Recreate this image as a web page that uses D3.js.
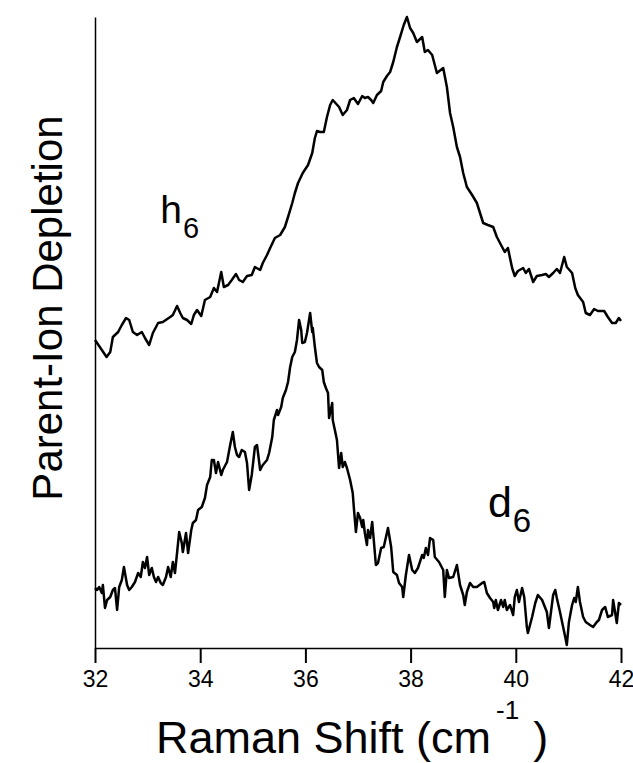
<!DOCTYPE html>
<html>
<head>
<meta charset="utf-8">
<script src="https://cdn.jsdelivr.net/npm/d3@7/dist/d3.min.js"></script>
<style>
  html, body { margin: 0; padding: 0; background: #fff; }
  svg { display: block; }
  text { font-family: "Liberation Sans", Arial, Helvetica, sans-serif; fill: #000; }
</style>
</head>
<body>
<svg id="chart" width="633" height="763"></svg>
<script>
// Raman shift (cm^-1) and parent-ion depletion (arbitrary units, offset traces)
const h6Shift = [32.00,32.04,32.13,32.22,32.29,32.34,32.44,32.51,32.59,32.65,32.72,32.80,32.89,32.95,33.03,33.10,33.20,33.29,33.43,33.48,33.56,33.62,33.67,33.75,33.83,33.88,33.94,34.02,34.09,34.19,34.26,34.32,34.40,34.45,34.53,34.60,34.68,34.74,34.81,34.89,34.98,35.04,35.14,35.19,35.27,35.33,35.42,35.52,35.61,35.67,35.75,35.80,35.86,35.95,36.05,36.13,36.18,36.22,36.28,36.35,36.41,36.47,36.52,36.64,36.71,36.79,36.85,36.92,37.00,37.08,37.13,37.19,37.25,37.29,37.36,37.44,37.48,37.55,37.61,37.67,37.74,37.80,37.87,37.93,37.99,38.05,38.12,38.22,38.27,38.33,38.41,38.46,38.50,38.62,38.69,38.75,38.81,38.88,38.94,39.00,39.07,39.17,39.26,39.32,39.38,39.47,39.57,39.64,39.74,39.79,39.85,39.93,39.98,40.04,40.14,40.19,40.25,40.33,40.40,40.50,40.57,40.63,40.71,40.78,40.84,40.92,40.97,41.07,41.13,41.18,41.28,41.33,41.41,41.49,41.56,41.68,41.75,41.83,41.90,41.96,42.00];
const h6Signal = [3.08,3.05,2.98,2.91,2.96,3.11,3.16,3.23,3.30,3.28,3.16,3.13,3.16,3.10,3.03,3.15,3.25,3.26,3.31,3.33,3.42,3.35,3.30,3.28,3.24,3.33,3.38,3.32,3.48,3.51,3.60,3.56,3.76,3.61,3.63,3.68,3.74,3.68,3.66,3.72,3.73,3.81,3.78,3.85,3.93,4.00,4.10,4.13,4.21,4.31,4.45,4.55,4.65,4.75,4.83,4.95,5.10,5.17,5.16,5.16,5.31,5.43,5.48,5.41,5.33,5.38,5.48,5.50,5.44,5.52,5.50,5.51,5.48,5.45,5.53,5.57,5.66,5.72,5.76,5.86,6.01,6.11,6.23,6.31,6.20,6.15,6.06,6.11,5.96,5.98,5.93,5.83,5.75,5.80,5.61,5.35,5.21,5.01,4.91,4.75,4.61,4.53,4.45,4.35,4.25,4.23,4.21,4.11,4.01,3.96,4.00,3.80,3.72,3.77,3.80,3.75,3.79,3.66,3.72,3.73,3.74,3.71,3.75,3.79,3.75,3.91,3.81,3.75,3.60,3.53,3.46,3.35,3.33,3.39,3.37,3.37,3.31,3.25,3.25,3.30,3.27];

const d6Shift = [32.00,32.04,32.08,32.13,32.15,32.19,32.23,32.29,32.34,32.38,32.42,32.46,32.51,32.55,32.61,32.65,32.70,32.76,32.82,32.87,32.91,32.95,32.99,33.03,33.08,33.12,33.16,33.20,33.25,33.29,33.35,33.39,33.44,33.48,33.52,33.56,33.60,33.65,33.67,33.73,33.77,33.83,33.86,33.92,33.96,34.03,34.09,34.13,34.19,34.22,34.26,34.30,34.34,34.40,34.43,34.51,34.57,34.62,34.66,34.70,34.74,34.79,34.85,34.89,34.93,34.98,35.04,35.08,35.14,35.19,35.27,35.31,35.37,35.40,35.46,35.48,35.54,35.57,35.63,35.67,35.71,35.75,35.80,35.84,35.88,35.92,35.94,35.99,36.03,36.09,36.13,36.14,36.18,36.22,36.26,36.32,36.35,36.39,36.43,36.45,36.51,36.52,36.56,36.60,36.64,36.68,36.71,36.75,36.79,36.85,36.90,36.92,36.96,37.00,37.04,37.08,37.10,37.13,37.17,37.19,37.23,37.27,37.30,37.34,37.38,37.44,37.49,37.57,37.63,37.67,37.74,37.78,37.84,37.86,37.91,37.97,38.03,38.08,38.14,38.22,38.25,38.29,38.33,38.37,38.43,38.46,38.54,38.62,38.65,38.69,38.73,38.81,38.88,38.94,39.00,39.03,39.07,39.13,39.19,39.26,39.36,39.40,39.45,39.51,39.57,39.59,39.62,39.66,39.72,39.76,39.79,39.83,39.89,39.95,39.98,40.02,40.06,40.12,40.16,40.21,40.23,40.31,40.37,40.42,40.50,40.56,40.59,40.63,40.71,40.75,40.78,40.84,40.90,40.94,40.97,41.01,41.07,41.11,41.14,41.18,41.22,41.28,41.33,41.41,41.47,41.54,41.58,41.64,41.70,41.75,41.83,41.85,41.89,41.92,41.96,42.00];
const d6Signal = [0.60,0.58,0.61,0.55,0.63,0.40,0.48,0.51,0.58,0.60,0.38,0.61,0.68,0.81,0.63,0.58,0.61,0.66,0.75,0.71,0.86,0.80,0.91,0.73,0.80,0.71,0.66,0.71,0.65,0.63,0.71,0.81,0.71,0.86,0.75,0.95,1.16,1.05,0.96,1.15,0.95,1.18,1.25,1.28,1.38,1.41,1.50,1.63,1.71,1.88,1.88,1.75,1.86,1.73,1.78,1.86,2.03,2.16,2.01,1.93,1.91,1.98,1.96,1.85,1.58,1.73,2.01,2.03,1.78,1.83,1.88,1.95,2.11,2.28,2.38,2.33,2.41,2.50,2.58,2.66,2.81,2.91,2.96,3.08,3.28,3.18,3.05,3.06,3.15,3.35,3.16,3.20,3.01,2.85,2.81,2.78,2.66,2.60,2.55,2.30,2.45,2.28,2.18,2.08,1.80,1.95,1.81,1.86,1.80,1.68,1.55,1.41,1.16,1.35,1.30,1.21,1.28,1.15,1.03,1.18,1.10,1.26,1.08,0.83,0.85,1.00,1.01,1.20,1.01,0.76,0.73,0.65,0.61,0.51,0.73,0.93,0.78,0.75,0.80,0.93,0.90,1.00,0.93,1.10,1.08,0.91,0.86,0.78,0.51,0.78,0.70,0.71,0.83,0.63,0.53,0.43,0.56,0.65,0.61,0.61,0.65,0.66,0.55,0.50,0.46,0.40,0.48,0.38,0.48,0.41,0.48,0.38,0.43,0.33,0.51,0.58,0.46,0.60,0.51,0.21,0.15,0.31,0.45,0.53,0.48,0.40,0.36,0.20,0.53,0.58,0.50,0.36,0.21,0.11,0.03,0.26,0.43,0.50,0.46,0.61,0.46,0.31,0.26,0.23,0.21,0.26,0.28,0.38,0.41,0.31,0.33,0.48,0.35,0.25,0.45,0.43];

const xTicks = [32, 34, 36, 38, 40, 42];
const xDomain = [32, 42];
const yDomain = [0, 6.31];

// trace labels: main letter with a subscript, anchored in data units
const traceLabels = [
  { main: "h", sub: "6", x: 33.24, y: 4.25, size: 39, subSize: 29 },
  { main: "d", sub: "6", x: 39.47, y: 1.31, size: 43, subSize: 33 }
];

const svg = d3.select("#chart");
const plot = { left: 95, right: 621, top: 17, bottom: 648 };

const x = d3.scaleLinear().domain(xDomain).range([plot.left, plot.right]);
const y = d3.scaleLinear().domain(yDomain).range([plot.bottom, plot.top]);

// x axis with outward ticks
const xAxis = d3.axisBottom(x)
  .tickValues(xTicks)
  .tickFormat(d3.format("d"))
  .tickSize(15)
  .tickSizeOuter(0)
  .tickPadding(8);

const gx = svg.append("g")
  .attr("transform", `translate(0,${plot.bottom})`)
  .call(xAxis);
gx.attr("font-size", 23).attr("font-family", "Liberation Sans, Arial, sans-serif");
gx.select(".domain").attr("stroke", "#000").attr("stroke-width", 1.5);
gx.selectAll(".tick line").attr("stroke", "#000").attr("stroke-width", 2);
gx.selectAll(".tick text").attr("fill", "#000");

// y axis: plain line without ticks
const yAxis = d3.axisLeft(y).tickValues([]).tickSizeOuter(0);
const gy = svg.append("g")
  .attr("transform", `translate(${plot.left},0)`)
  .call(yAxis);
gy.select(".domain").attr("stroke", "#000").attr("stroke-width", 1.5);

// spectra
const line = d3.line()
  .x(d => x(d[0]))
  .y(d => y(d[1]));

const series = [
  d3.zip(h6Shift, h6Signal),
  d3.zip(d6Shift, d6Signal)
];

svg.append("g")
  .selectAll("path")
  .data(series)
  .join("path")
  .attr("d", line)
  .attr("fill", "none")
  .attr("stroke", "#000")
  .attr("stroke-width", 2.5)
  .attr("stroke-linejoin", "round");

// trace labels with subscripts
traceLabels.forEach(l => {
  const t = svg.append("text")
    .attr("x", x(l.x))
    .attr("y", y(l.y))
    .attr("font-size", l.size)
    .text(l.main);
  t.append("tspan")
    .attr("font-size", l.subSize)
    .attr("dx", 1)
    .attr("dy", 15)
    .text(l.sub);
});

// axis titles
const xt = svg.append("text")
  .attr("x", 156)
  .attr("y", 753)
  .attr("font-size", 45)
  .text("Raman Shift (cm");
xt.append("tspan")
  .attr("font-size", 26)
  .attr("dx", 5)
  .attr("dy", -34)
  .text("-1");
xt.append("tspan")
  .attr("font-size", 45)
  .attr("dx", 14)
  .attr("dy", 34)
  .text(")");

svg.append("text")
  .attr("transform", "translate(62,308) rotate(-90)")
  .attr("text-anchor", "middle")
  .attr("font-size", 42)
  .text("Parent-Ion Depletion");
</script>
</body>
</html>
